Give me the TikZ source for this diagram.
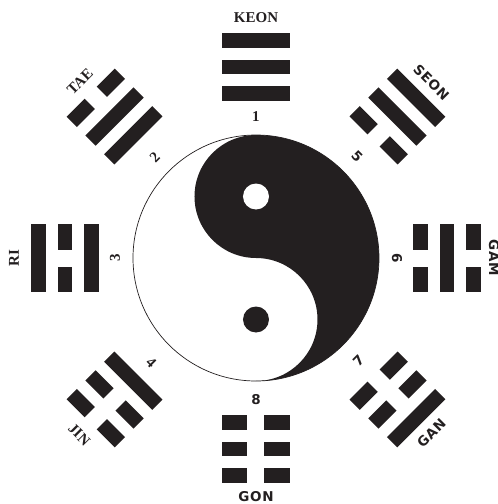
\documentclass[tikz,border=0pt]{standalone}
\usepackage{fontspec}
\usepackage{tikz}
\usetikzlibrary{positioning}

\newfontfamily\guaserif{Liberation Serif}
\newfontfamily\guasans[LetterSpace=5]{DejaVu Sans}
\definecolor{ink}{RGB}{35,31,32}

% one line of a trigram: #1 = offset, #2 = 1 solid / 0 broken
\newcommand{\yao}[2]{%
  \ifnum#2=1
    \fill[ink] (-34,#1-7.25) rectangle (34,#1+7.25);
  \else
    \fill[ink] (-34,#1-7.25) rectangle (-8.5,#1+7.25);
    \fill[ink] (8.5,#1-7.25) rectangle (34,#1+7.25);
  \fi}
% trigram: angle, distance, inner, middle, outer line
\newcommand{\trigram}[5]{%
  \begin{scope}[shift={(#1:#2)}, rotate=#1-90]
    \yao{-26.5}{#3}\yao{0}{#4}\yao{26.5}{#5}
  \end{scope}}

\begin{document}
\begin{tikzpicture}[x=1pt, y=1pt,
  guaname/.style={font=\guaserif\bfseries\fontsize{15}{15}\selectfont, text=ink, inner sep=0pt},
  guanamesf/.style={font=\guasans\bfseries\fontsize{13.5}{13.5}\selectfont, text=ink, inner sep=0pt}]
\useasboundingbox (-256,-246) rectangle (242,258);

% taeguk
\fill[ink] (0,123) arc[start angle=90, end angle=-90, radius=123]
  arc[start angle=-90, end angle=90, radius=61.5]
  arc[start angle=270, end angle=90, radius=61.5] -- cycle;
\fill[white] (0,61.5) circle (13);
\fill[ink] (0,-61.5) circle (13);
\draw[ink, line width=0.7pt] (0,0) circle (123);

% trigrams
\trigram{90}{191}{1}{1}{1}
\trigram{135}{200}{1}{1}{0}
\trigram{180}{191}{1}{0}{1}
\trigram{225}{200}{1}{0}{0}
\trigram{270}{191}{0}{0}{0}
\trigram{315}{200}{0}{0}{1}
\trigram{0}{191}{0}{1}{0}
\trigram{45}{200}{0}{1}{1}

% names
\node[guaname] (keon) at (90:240) {KEON};
\node[guaname, rotate=45] (tae) at (135:249) {TAE};
\node[guaname, rotate=90] (ri) at (180:242) {RI};
\node[guaname, rotate=-45] (jin) at (225:250) {JIN};
\node[guanamesf] (gon) at (270:239) {GON};
\node[guanamesf, rotate=45] (gan) at (315:248) {GAN};
\node[guanamesf, rotate=-90] (gam) at (0:238) {GAM};
\node[guanamesf, rotate=-45] (seon) at (45:248) {SEON};

% numbers
\node[guaname] (n1) at (90:141) {1};
\node[guaname, rotate=45] (n2) at (135:143) {2};
\node[guaname, rotate=90] (n3) at (180:141) {3};
\node[guaname, rotate=-45] (n4) at (225:148) {4};
\node[guanamesf] (n8) at (270:142) {8};
\node[guanamesf, rotate=45] (n7) at (315:145) {7};
\node[guanamesf, rotate=-90] (n6) at (0:141) {6};
\node[guanamesf, rotate=-45] (n5) at (45:143) {5};
\end{tikzpicture}
\end{document}
